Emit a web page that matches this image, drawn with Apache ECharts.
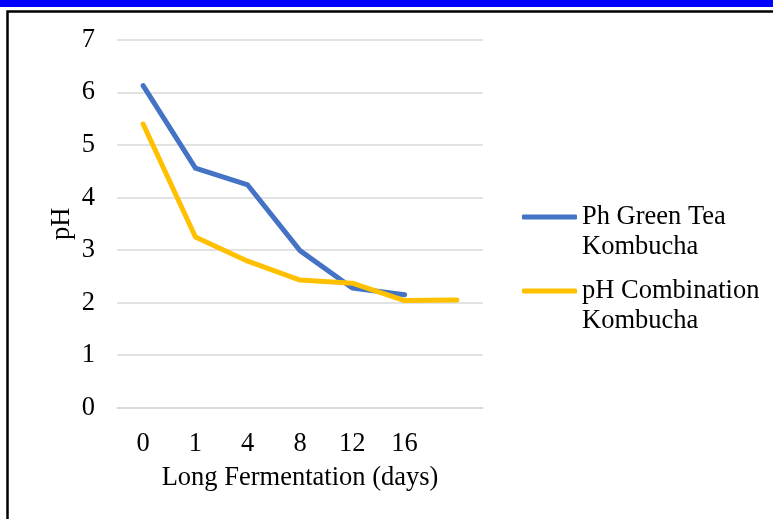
<!DOCTYPE html>
<html><head><meta charset="utf-8">
<script src="https://cdn.jsdelivr.net/npm/echarts@6/dist/echarts.min.js"></script>
<style>html,body{margin:0;padding:0;background:#fff}#c{width:773px;height:519px}</style>
</head><body><div id="c"></div>
<script>
const categories = ['0','1','4','8','12','16',''];
const greenTea = [6.13, 4.56, 4.24, 2.99, 2.28, 2.15, null];
const combination = [5.40, 3.25, 2.79, 2.43, 2.37, 2.04, 2.05];
const seriesNames = ['Ph Green Tea\nKombucha', 'pH Combination\nKombucha'];
const yTicks = {min: 0, max: 7, interval: 1};

const FONT = '"Liberation Serif", "Times New Roman", serif';
const FS = 26.5;
const chart = echarts.init(document.getElementById('c'));
const legendCommon = {
  orient: 'vertical', left: 522, padding: 0, itemWidth: 55, itemHeight: 5, itemGap: 0,
  icon: 'roundRect',
  formatter: function (n) { return '\n' + n; },
  textStyle: {fontFamily: FONT, fontSize: FS, color: '#000', lineHeight: 30}
};
chart.setOption({
  backgroundColor: '#fff',
  animation: false,
  graphic: [
    {type: 'rect', shape: {x: 0, y: 0, width: 773, height: 7}, style: {fill: '#0000ff'}},
    {type: 'rect', shape: {x: 7.5, y: 11.5, width: 800, height: 600}, style: {fill: 'none', stroke: '#000', lineWidth: 2.5}}
  ],
  grid: {left: 117, right: 290, top: 40, bottom: 111.3},
  legend: [
    Object.assign({}, legendCommon, {top: 172, data: [seriesNames[0]]}),
    Object.assign({}, legendCommon, {top: 246, data: [seriesNames[1]]})
  ],
  xAxis: {
    type: 'category', data: categories, boundaryGap: true,
    axisLine: {lineStyle: {color: '#d9d9d9', width: 1.5}},
    axisTick: {show: false},
    axisLabel: {fontFamily: FONT, fontSize: FS, color: '#000', margin: 23},
    name: 'Long Fermentation (days)', nameLocation: 'middle', nameGap: 57, nameMoveOverlap: false,
    nameTextStyle: {fontFamily: FONT, fontSize: FS, color: '#000'}
  },
  yAxis: {
    type: 'value', min: yTicks.min, max: yTicks.max, interval: yTicks.interval,
    axisLine: {show: false}, axisTick: {show: false},
    splitLine: {lineStyle: {color: '#d9d9d9', width: 1.5}},
    axisLabel: {fontFamily: FONT, fontSize: FS, color: '#000', margin: 22, padding: [3, 0, 0, 0]},
    name: 'pH', nameLocation: 'middle', nameGap: 41, nameRotate: 90, nameMoveOverlap: false,
    nameTextStyle: {fontFamily: FONT, fontSize: FS, color: '#000'}
  },
  series: [
    {name: seriesNames[0], type: 'line', data: greenTea, showSymbol: false, symbol: 'none',
     lineStyle: {color: '#4472c4', width: 5, cap: 'round', join: 'round'}, itemStyle: {color: '#4472c4'}},
    {name: seriesNames[1], type: 'line', data: combination, showSymbol: false, symbol: 'none',
     lineStyle: {color: '#ffc000', width: 5, cap: 'round', join: 'round'}, itemStyle: {color: '#ffc000'}}
  ]
});
</script></body></html>
